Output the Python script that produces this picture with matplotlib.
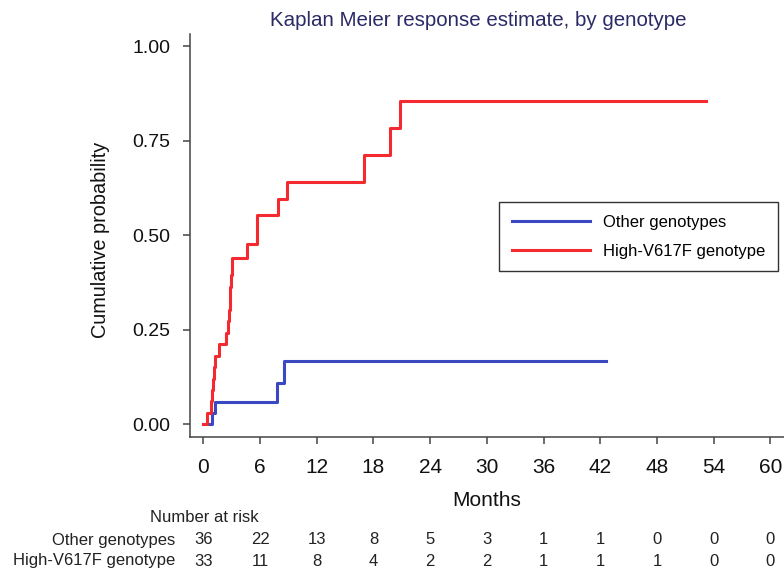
import matplotlib
matplotlib.use("Agg")
import matplotlib.pyplot as plt
import matplotlib.transforms as mtransforms
import numpy as np

plt.rcParams['font.family'] = ['Liberation Sans', 'DejaVu Sans']

# step curves (months, cumulative probability)
other_t = [0, 0.88, 1.24, 7.84, 8.54, 42.6]
other_p = [0, 0.029, 0.058, 0.108, 0.168, 0.168]

high_t = [0, 0.4, 0.8, 0.9, 1.0, 1.1, 1.2, 1.7, 2.4, 2.65, 2.75, 2.8, 2.85, 2.9, 3.0,
          4.6, 5.7, 7.9, 8.9, 17.0, 19.8, 20.8, 53.2]
high_p = [0, 0.030, 0.061, 0.091, 0.121, 0.152, 0.182, 0.212, 0.242, 0.273, 0.303,
          0.333, 0.364, 0.394, 0.439, 0.476, 0.555, 0.597, 0.641, 0.713, 0.785, 0.855, 0.855]

groups = ['Other genotypes', 'High-V617F genotype']
risk_times = [0, 6, 12, 18, 24, 30, 36, 42, 48, 54, 60]
risk_other = [36, 22, 13, 8, 5, 3, 1, 1, 0, 0, 0]
risk_high = [33, 11, 8, 4, 2, 2, 1, 1, 1, 0, 0]

blue = '#3a48c2'
red = '#f42a30'
W, H = 784, 568

fig = plt.figure(figsize=(7.84, 5.68), dpi=100)
ax = fig.add_axes([190 / W, 1 - 437 / H, 1 - 190 / W, (437 - 34) / H])

ax.step(other_t, other_p, where='post', color=blue, lw=2.2, label=groups[0])
ax.step(high_t, high_p, where='post', color=red, lw=2.2, label=groups[1])

ax.set_xlim(-1.41, 61.45)
ax.set_ylim(-0.0336, 1.0325)
ax.set_xticks(risk_times)
ax.set_yticks([0, 0.25, 0.5, 0.75, 1.0])
ax.set_yticklabels(['0.00', '0.25', '0.50', '0.75', '1.00'])

for s in ['top', 'right']:
    ax.spines[s].set_visible(False)
for s in ['left', 'bottom']:
    ax.spines[s].set_color('#444444')
    ax.spines[s].set_linewidth(1.1)
ax.tick_params(axis='x', length=5, width=1.1, color='#444444', pad=10, labelsize=15, labelcolor='#111111')
ax.tick_params(axis='y', length=5, width=1.1, color='#444444', pad=9, labelsize=14, labelcolor='#111111')

leg = ax.legend(loc='upper left', bbox_to_anchor=(499 / W, 1 - 202 / H),
                bbox_transform=fig.transFigure, borderaxespad=0, fontsize=12,
                handlelength=4.7, handletextpad=0.8, borderpad=0.75, labelspacing=0.85,
                fancybox=False, framealpha=1)
leg.get_frame().set_edgecolor('#333333')
leg.get_frame().set_linewidth(1.0)

fig.text(478 / W, 1 - 20 / H, 'Kaplan Meier response estimate, by genotype',
         ha='center', va='center', fontsize=14.8, color='#2b2a66')
fig.text(100 / W, 1 - 240 / H, 'Cumulative probability', rotation=90,
         ha='center', va='center', fontsize=14.3, color='#111111')
fig.text(487 / W, 1 - 500 / H, 'Months', ha='center', va='center', fontsize=15, color='#111111')

# number at risk table
trans = mtransforms.blended_transform_factory(ax.transData, fig.transFigure)
fig.text(204 / W, 1 - 517 / H, 'Number at risk', ha='center', va='center', fontsize=12, color='#222222')
for row_y, name, counts in [(540, groups[0], risk_other), (561, groups[1], risk_high)]:
    fig.text(175 / W, 1 - row_y / H, name, ha='right', va='center', fontsize=12, color='#222222')
    for t, n in zip(risk_times, counts):
        ax.text(t, 1 - row_y / H, str(n), transform=trans, ha='center', va='center',
                fontsize=12, color='#222222', clip_on=False)

fig.savefig('out.png', dpi=100)
